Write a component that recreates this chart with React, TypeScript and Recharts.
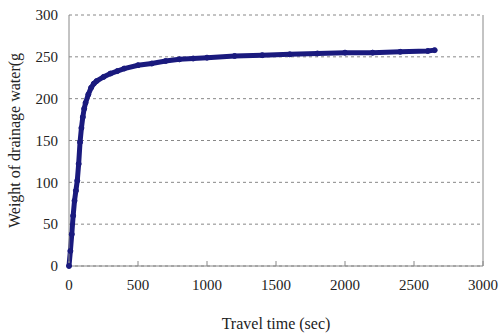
import React from 'react';
import { LineChart, Line, XAxis, YAxis, CartesianGrid, ReferenceLine, Label } from 'recharts';

// travel time (sec) and drainage water weight (g)
const times = [0, 10, 20, 30, 40, 50, 60, 70, 80, 90, 100, 110, 120, 140, 160, 180, 200, 250, 300, 350, 400, 500, 600, 700, 800, 900, 1000, 1200, 1400, 1600, 1800, 2000, 2200, 2400, 2600, 2650];
const weights = [0, 18, 38, 60, 78, 90, 102, 122, 148, 165, 178, 188, 195, 205, 213, 218, 221, 226, 230, 233, 236, 240, 242, 245, 247, 248, 249, 251, 252, 253, 254, 255, 255, 256, 257, 258];

const xTicks = [0, 500, 1000, 1500, 2000, 2500, 3000];
const yTicks = [0, 50, 100, 150, 200, 250, 300];

const data = times.map((t, i) => ({ t, w: weights[i] }));

const font = '"Liberation Serif", "Times New Roman", serif';

export default function App() {
  return (
    <div style={{ position: 'absolute', left: 0, top: 0, width: 500, height: 333, background: '#fff', fontFamily: font }}>
      <LineChart width={500} height={333} data={data} margin={{ top: 15, right: 17, left: 0, bottom: 0 }}>
        <CartesianGrid vertical={false} stroke="#888" strokeDasharray="3 3" />
        <XAxis
          type="number"
          dataKey="t"
          domain={[0, 3000]}
          ticks={xTicks}
          height={67}
          stroke="#888"
          tickSize={-5}
          tickMargin={18}
          tick={{ fill: '#222', fontSize: 15, fontFamily: font }}
        >
          <Label value="Travel time (sec)" position="insideBottom" offset={4} style={{ fill: '#222', fontSize: 16, fontFamily: font }} />
        </XAxis>
        <YAxis
          type="number"
          domain={[0, 300]}
          ticks={yTicks}
          width={69}
          stroke="#888"
          tickLine={false}
          tickSize={0}
          tickMargin={11}
          tick={{ fill: '#222', fontSize: 15, fontFamily: font }}
        >
          <Label value="Weight of drainage water(g" angle={-90} position="insideLeft" offset={14} style={{ textAnchor: 'middle', fill: '#222', fontSize: 16, fontFamily: font }} />
        </YAxis>
        <ReferenceLine x={3000} stroke="#888" />
        <Line
          type="linear"
          dataKey="w"
          stroke="#1a1a7e"
          strokeWidth={5}
          dot={{ r: 2.5, stroke: '#1a1a7e', strokeWidth: 1, fill: '#1a1a7e' }}
          isAnimationActive={false}
        />
      </LineChart>
    </div>
  );
}
